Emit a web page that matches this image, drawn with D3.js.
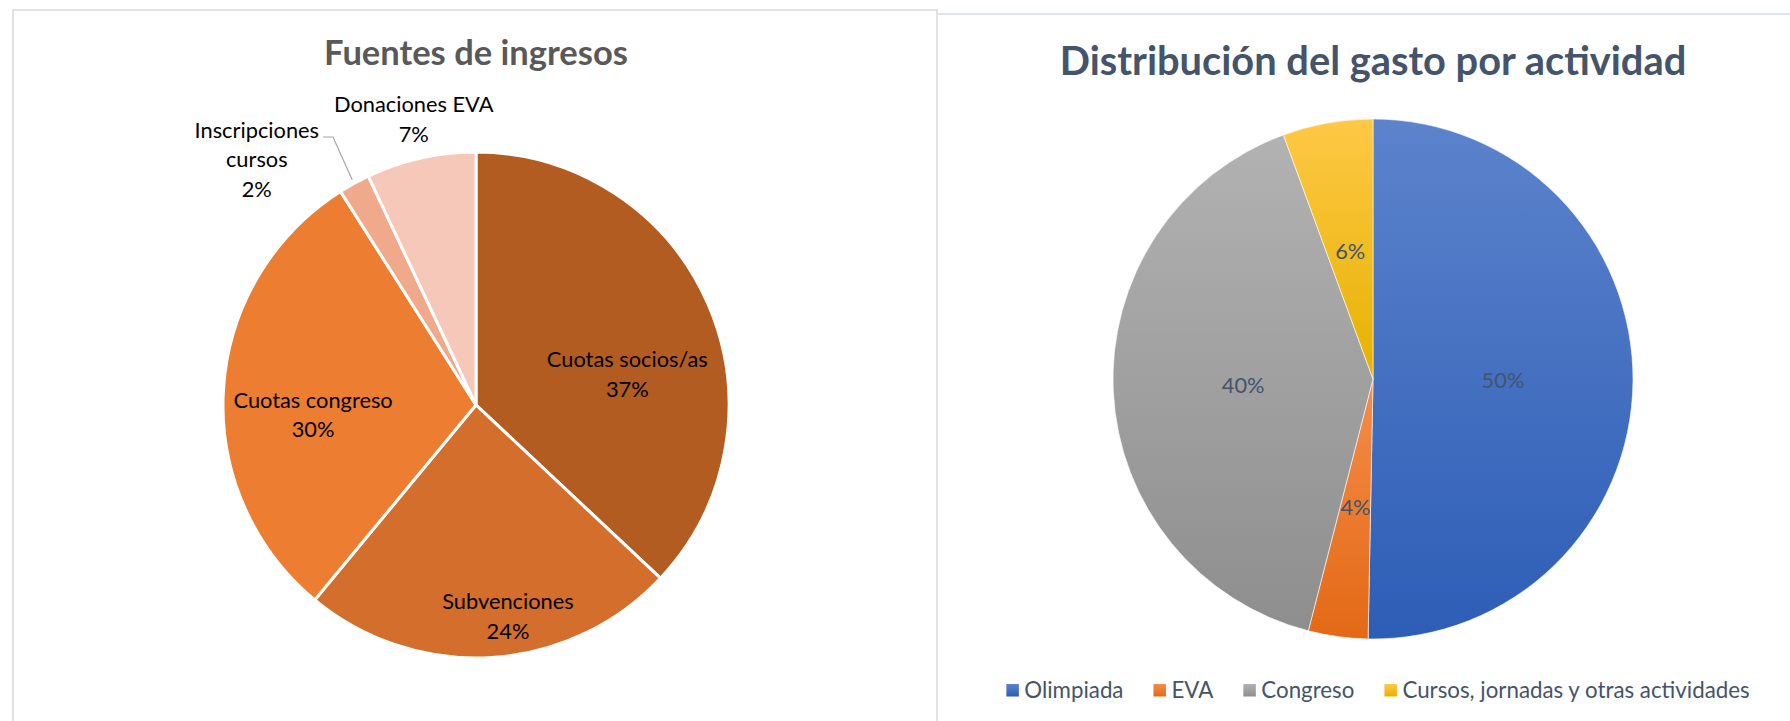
<!DOCTYPE html>
<html>
<head>
<meta charset="utf-8">
<script src="https://cdn.jsdelivr.net/npm/d3@7"></script>
<style>
  body { margin: 0; background: #fff; }
  text { font-family: Lato, "Open Sans", sans-serif; }
</style>
</head>
<body>
<div id="chart"></div>
<script>
/* DATA */
const ingresosCats = ["Cuotas socios/as", "Subvenciones", "Cuotas congreso", "Inscripciones cursos", "Donaciones EVA"];
const ingresosVals = [37, 24, 30, 2, 7];
const ingresosPct = ["37%", "24%", "30%", "2%", "7%"];

const gastoCats = ["Olimpiada", "EVA", "Congreso", "Cursos, jornadas y otras actividades"];
const gastoVals = [50.3, 3.7, 40.4, 5.6];
const gastoPct = ["50%", "4%", "40%", "6%"];

/* CONSTANTS */
const width = 1790, height = 721;
const leftColors = ["#b35c22", "#d36e2c", "#ed7d31", "#f1a98b", "#f6c8b9"];
// top / bottom of each gradient
const rightColors = [["#5c83cc", "#2d5db6"], ["#f58d49", "#e36916"], ["#b2b2b2", "#8e8e8e"], ["#ffc846", "#e5b200"]];

const svg = d3.select("#chart")
  .append("svg")
  .attr("width", width)
  .attr("height", height);

// panel frames
svg.append("rect")
  .attr("x", 13).attr("y", 10)
  .attr("width", 924).attr("height", 740)
  .attr("fill", "none")
  .attr("stroke", "#d9d9d9")
  .attr("stroke-width", 1.5);

svg.append("line")
  .attr("x1", 938).attr("x2", width)
  .attr("y1", 14).attr("y2", 14)
  .attr("stroke", "#dfe4eb")
  .attr("stroke-width", 2);

const pie = d3.pie().sort(null).value(d => d);

/* LEFT PIE : Fuentes de ingresos */
const cxL = 476, cyL = 405, rL = 253;
const gL = svg.append("g").attr("transform", `translate(${cxL}, ${cyL})`);
const arcL = d3.arc().innerRadius(0).outerRadius(rL);
const arcsL = pie(ingresosVals);

svg.append("text")
  .attr("x", cxL)
  .attr("y", 65)
  .attr("text-anchor", "middle")
  .attr("font-size", 34.5)
  .attr("font-weight", "bold")
  .attr("fill", "#595959")
  .text("Fuentes de ingresos");

gL.selectAll("path")
  .data(arcsL)
  .join("path")
  .attr("d", arcL)
  .attr("fill", (d, i) => leftColors[i])
  .attr("stroke", "#fff")
  .attr("stroke-width", 3);

// label placement: radius (fraction of r) and angle shift (deg) from slice middle
const labelPlace = [[0.61, 12], [0.845, -5], [0.645, -7], [1.30, -13], [1.155, 0.3]];

const labelsL = gL.selectAll("g.lbl")
  .data(arcsL)
  .join("g")
  .attr("class", "lbl")
  .attr("transform", (d, i) => {
    const a = (d.startAngle + d.endAngle) / 2 + labelPlace[i][1] * Math.PI / 180;
    const k = labelPlace[i][0] * rL;
    return `translate(${Math.sin(a) * k}, ${-Math.cos(a) * k})`;
  });

labelsL.each(function (d, i) {
  const lines = i === 3 ? ["Inscripciones", "cursos", ingresosPct[i]] : [ingresosCats[i], ingresosPct[i]];
  const lh = 29.5;
  d3.select(this).selectAll("text")
    .data(lines)
    .join("text")
    .attr("text-anchor", "middle")
    .attr("dy", "0.35em")
    .attr("y", (t, j) => (j - (lines.length - 1) / 2) * lh)
    .attr("font-size", 21.8)
    .attr("fill", "#000")
    .text(t => t);
});

// leader line for the small slice
const small = arcsL[3];
const aS = (small.startAngle + small.endAngle) / 2;
const endPt = [Math.sin(aS) * (rL + 4), -Math.cos(aS) * (rL + 4)];
gL.append("path")
  .attr("d", d3.line()([[-153, -268], [-143, -268], endPt]))
  .attr("fill", "none")
  .attr("stroke", "#a6a6a6")
  .attr("stroke-width", 1.2);

/* RIGHT PIE : Distribución del gasto por actividad */
const cxR = 1373, cyR = 379, rR = 260;
const gR = svg.append("g").attr("transform", `translate(${cxR}, ${cyR})`);
const arcR = d3.arc().innerRadius(0).outerRadius(rR);
const arcsR = pie(gastoVals);

svg.append("text")
  .attr("x", cxR)
  .attr("y", 75)
  .attr("text-anchor", "middle")
  .attr("font-size", 39.8)
  .attr("font-weight", "bold")
  .attr("fill", "#44546a")
  .text("Distribución del gasto por actividad");

const defs = svg.append("defs");
rightColors.forEach((c, i) => {
  const grad = defs.append("linearGradient")
    .attr("id", "grad" + i)
    .attr("x1", 0).attr("y1", 0).attr("x2", 0).attr("y2", 1);
  grad.append("stop").attr("offset", "0%").attr("stop-color", c[0]);
  grad.append("stop").attr("offset", "100%").attr("stop-color", c[1]);
});

gR.selectAll("path")
  .data(arcsR)
  .join("path")
  .attr("d", arcR)
  .attr("fill", (d, i) => `url(#grad${i})`)
  .attr("stroke", "#fff")
  .attr("stroke-width", 0.6);

gR.selectAll("text.pct")
  .data(arcsR)
  .join("text")
  .attr("class", "pct")
  .attr("transform", d => `translate(${arcR.centroid(d)})`)
  .attr("text-anchor", "middle")
  .attr("dy", "0.35em")
  .attr("font-size", 21.8)
  .attr("fill", "#44546a")
  .text((d, i) => gastoPct[i]);

// legend
const legend = svg.append("g").attr("transform", `translate(0, 690)`);
const items = legend.selectAll("g")
  .data(gastoCats)
  .join("g");
items.append("rect")
  .attr("width", 12.5).attr("height", 12.5)
  .attr("y", -6)
  .attr("fill", (d, i) => `url(#grad${i})`);
items.append("text")
  .attr("x", 18)
  .attr("dy", "0.35em")
  .attr("font-size", 22.3)
  .attr("fill", "#44546a")
  .text(d => d);

let xs = [], total = 0;
items.each(function () {
  const w = 18 + this.querySelector("text").getComputedTextLength();
  xs.push(total);
  total += w + 30;
});
total -= 30;
const startX = 1378 - total / 2;
items.attr("transform", (d, i) => `translate(${startX + xs[i]}, 0)`);
</script>
</body>
</html>
